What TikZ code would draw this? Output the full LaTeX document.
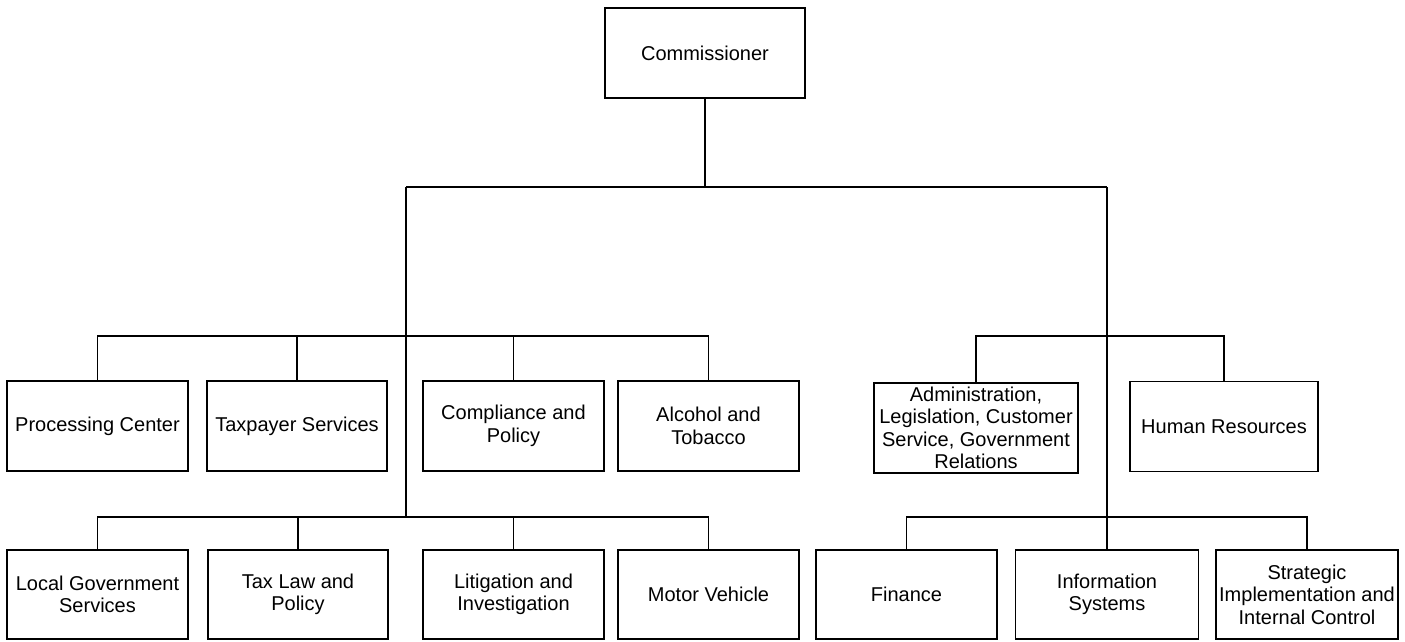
\documentclass[tikz,border=0pt]{standalone}
\usepackage{fontspec}
\setmainfont{Liberation Sans}
\begin{document}
\begin{tikzpicture}[x=1pt,y=-1pt,
  orgbox/.style={draw,line width=1.4pt,rectangle,inner sep=0pt,align=center,
    minimum height=90pt,font=\fontsize{20}{22.5}\selectfont},
  link/.style={line width=1.4pt}]
\useasboundingbox (0,0) rectangle (1405,641);
\node[orgbox,minimum width=200pt] (comm) at (705,53) {Commissioner};
% row 1
\node[orgbox,minimum width=181pt] (pc) at (97.5,426) {Processing Center};
\node[orgbox,minimum width=180pt] (ts) at (297,426) {Taxpayer Services};
\node[orgbox,minimum width=181pt] (cp) at (513.5,426) {Compliance and\\Policy};
\node[orgbox,minimum width=181pt] (at) at (708.5,426) {Alcohol and\\Tobacco};
\node[orgbox,minimum width=204pt] (adm) at (976,428) {Administration,\\Legislation, Customer\\Service, Government\\Relations};
\node[orgbox,minimum width=188pt] (hr) at (1224,426.5) {Human Resources};
% row 2
\node[orgbox,minimum width=181pt,minimum height=89pt] (lg) at (97.5,594.5) {Local Government\\Services};
\node[orgbox,minimum width=180pt,minimum height=89pt] (tl) at (298,594.5) {Tax Law and\\Policy};
\node[orgbox,minimum width=181pt,minimum height=89pt] (li) at (513.5,594.5) {Litigation and\\Investigation};
\node[orgbox,minimum width=181pt,minimum height=89pt] (mv) at (708.5,594.5) {Motor Vehicle};
\node[orgbox,minimum width=181pt,minimum height=89pt] (fi) at (906.5,594.5) {Finance};
\node[orgbox,minimum width=183pt,minimum height=89pt] (is) at (1107,594.5) {Information\\Systems};
\node[orgbox,minimum width=182pt,minimum height=89pt] (si) at (1307,594.5) {Strategic\\Implementation and\\Internal Control};
% junctions
\coordinate (j0) at (705,187);
\coordinate (jl) at (406,187);
\coordinate (jr) at (1107,187);
\coordinate (h1) at (406,336);
\coordinate (h2) at (1107,336);
\coordinate (jlb) at (406,517);
\coordinate (jrb) at (1107,517);
\draw[link] (comm.south) -- (j0);
\draw[link] (jl) -- (jr);
\draw[link] (jl) -- (jlb);
\draw[link] (jr) -- (jrb);
\foreach \b in {pc,ts,cp,at} \draw[link] (h1) -| (\b.north);
\foreach \b in {adm,hr} \draw[link] (h2) -| (\b.north);
\foreach \b in {lg,tl,li,mv} \draw[link] (jlb) -| (\b.north);
\foreach \b in {fi,is,si} \draw[link] (jrb) -| (\b.north);
\end{tikzpicture}
\end{document}
